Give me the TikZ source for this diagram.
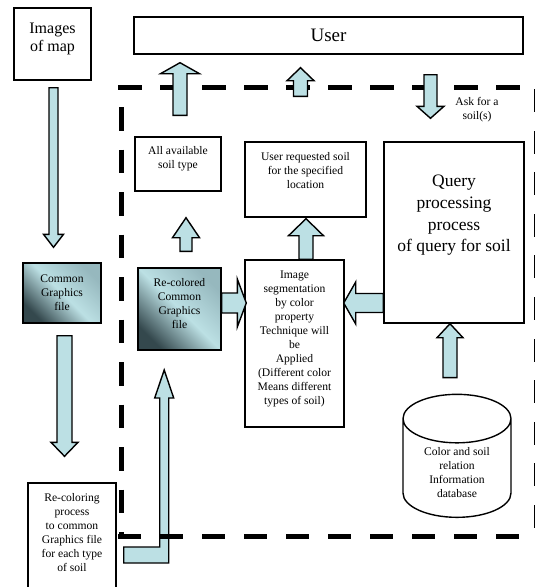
\documentclass[tikz,border=0pt]{standalone}
\usepackage{fontspec}
\setmainfont{Liberation Serif}
\usetikzlibrary{shapes.geometric,calc}

\definecolor{arrowFill}{RGB}{188,224,228}
\definecolor{shadeDark}{RGB}{52,72,77}
\definecolor{shadeTop}{RGB}{150,184,190}

% zero-width strut that deepens the last line (moves centred text up)
\newcommand\lift[1]{\rule[-#1pt]{0pt}{0pt}}
% block arrow: start, tip, shaft half width, head half width, head length
\newcommand\blockArrow[5]{%
  \coordinate (ba-s) at #1;
  \coordinate (ba-e) at #2;
  \coordinate (ba-b) at ($(ba-e)!#5pt!(ba-s)$);
  \draw[arrowDecorate] ($(ba-s)!#3pt!90:(ba-e)$) -- ($(ba-b)!#3pt!-90:(ba-s)$)
    -- ($(ba-b)!#4pt!-90:(ba-s)$) -- (ba-e) -- ($(ba-b)!#4pt!90:(ba-s)$)
    -- ($(ba-b)!#3pt!90:(ba-s)$) -- ($(ba-s)!#3pt!-90:(ba-e)$) -- cycle;
}

\begin{document}
\begin{tikzpicture}
[x=1pt,y=-1pt,
  boxDecorate/.style={shape=rectangle,draw,line width=1.4pt,align=center,inner sep=0pt,fill=white},%
  smallText/.style={font=\fontsize{11.6}{14}\selectfont},%
  shadeDecorate/.style={boxDecorate,shade,bottom color=shadeDark,top color=shadeTop,
    middle color=arrowFill,shading angle=-45},%
  arrowDecorate/.style={draw,line width=1.4pt,fill=arrowFill,line join=miter},%
  dashDecorate/.style={line width=5pt}]
\useasboundingbox (0,0) rectangle (535,587);
\clip (0,0) rectangle (535,587);

%% dashed frame
\draw[dashDecorate,dash pattern=on 24pt off 18pt] (118,87) -- (520,87);
\draw[dashDecorate,dash pattern=on 23.5pt off 19pt] (121,107) -- (121,536);
\draw[dashDecorate,dash pattern=on 23pt off 18.6pt] (536,89) -- (536,532);

%% boxes
\node (map) at (52.5,44) [boxDecorate,minimum width=77,minimum height=72,
  font=\fontsize{16}{18}\selectfont] {Images\\of map\lift{13.5}};
\node (user) at (328.5,35.5) [boxDecorate,minimum width=389,minimum height=37,
  font=\fontsize{19}{22}\selectfont] {User};
\node (query) at (454,232.5) [boxDecorate,minimum width=140,minimum height=181,
  font=\fontsize{17.5}{21.7}\selectfont] {Query\\processing\\process\\of query for soil\lift{38}};
\foreach \nodename/\x/\y/\w/\h/\lft/\txt in {
  avail/178/164/86/54/12.5/All available\\soil type,
  userreq/305.5/179.5/121/75/19/User requested soil\\for the specified\\location,
  segment/294.5/343.5/99/167/11.5/Image\\segmentation\\by color\\property\\Technique will\\be\\Applied\\(Different color\\Means different\\types of soil),
  recolor/72/541.5/88/117/19/Re-coloring\\process\\to common\\Graphics file\\for each type\\of soil}
{
  \node (\nodename) at (\x,\y) [boxDecorate,smallText,minimum width=\w,minimum height=\h] {\txt\lift{\lft}};
}
\node (common) at (62,293) [shadeDecorate,smallText,minimum width=78,minimum height=60]
  {Common\\Graphics\\file};
\node (recolored) at (179.5,309) [shadeDecorate,smallText,minimum width=83,minimum height=82]
  {Re-colored\\Common\\Graphics\\file\lift{12}};
\node (db) at (457,472.5) [shape=cylinder,shape border rotate=90,aspect=0.67,draw,
  line width=1.4pt,align=center,smallText,minimum width=108,minimum height=123]
  {Color and soil\\relation\\Information\\database};
\node (ask) at (477,110) [smallText,align=center] {Ask for a\\soil(s)};

%% block arrows
\blockArrow{([xshift=1pt,yshift=-7pt]map.south)}{([xshift=1pt,yshift=15pt]map.south |- common.north)}{4.5}{10}{13}
\blockArrow{([xshift=2.5pt,yshift=-12pt]common.south)}{([xshift=2.5pt,yshift=26pt]common.south |- recolor.north)}{7.5}{13.5}{14}
\blockArrow{([xshift=6.5pt,yshift=16pt]recolored.north)}{([xshift=6.5pt,yshift=-26pt]recolored.north |- avail.south)}{6}{13.5}{20}
\blockArrow{([xshift=2pt,yshift=21pt]avail.north)}{([xshift=2pt,yshift=-8pt]avail.north |- user.south)}{7}{19.5}{11}
\blockArrow{([xshift=-5pt,yshift=45pt]userreq.north)}{([xshift=-5pt,yshift=-13pt]userreq.north |- user.south)}{7}{13.5}{13}
\blockArrow{([xshift=-23.5pt,yshift=-20pt]query.north |- user.south)}{([xshift=-23.5pt,yshift=23pt]query.north)}{6.5}{13.5}{12}
\blockArrow{([xshift=11.5pt]segment.north)}{([xshift=11.5pt,yshift=-1pt]segment.north |- userreq.south)}{7}{17.5}{17}
\blockArrow{([yshift=6pt]query.west |- recolored.east)}{([xshift=-1pt,yshift=6pt]segment.east |- recolored.east)}{9.5}{21}{12}
\blockArrow{([yshift=6pt]recolored.east)}{([xshift=2pt,yshift=6pt]segment.west |- recolored.east)}{10}{24}{9}
\blockArrow{([xshift=-7pt,yshift=16pt]db.north)}{([xshift=-7pt]db.north |- query.south)}{7}{13}{14}
%% bent arrow from the re-coloring process up to the re-colored file
\draw[arrowDecorate] ([xshift=7pt,yshift=-5.5pt]recolor.east) -- ++(36,0) -- ++(0,-149)
  -- ++(-5,0) -- ++(9.5,-28) -- ++(9.5,28) -- ++(-5,0) -- ++(0,165) -- ++(-45,0) -- cycle;

\draw[dashDecorate,dash pattern=on 23pt off 19pt] (118,536) -- (522,536);
\end{tikzpicture}
\end{document}
